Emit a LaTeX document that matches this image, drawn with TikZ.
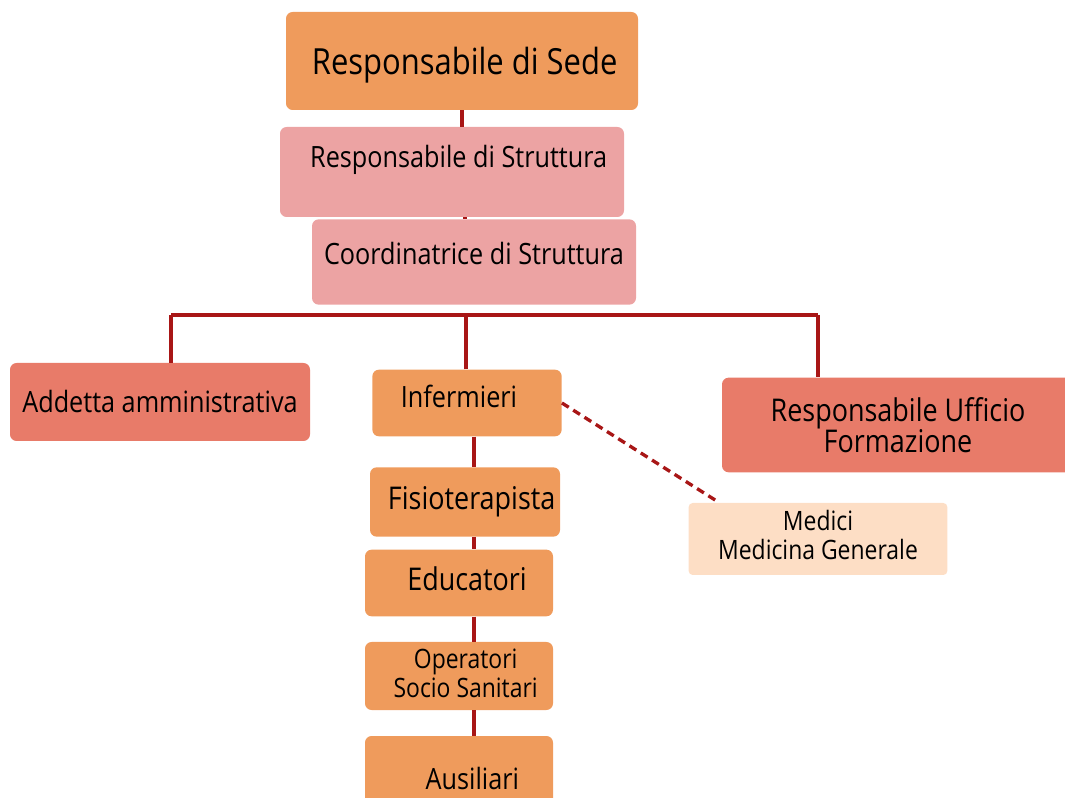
\documentclass[tikz,border=0pt]{standalone}
\usepackage{fontspec}
\setmainfont{Open Sans}[FakeStretch=0.86]
\usepackage{tikz}
\usetikzlibrary{calc}

\definecolor{arancio}{HTML}{EF9B5C}
\definecolor{rosa}{HTML}{ECA3A3}
\definecolor{salmone}{HTML}{E87B69}
\definecolor{pesca}{HTML}{FDDEC5}
\definecolor{linea}{HTML}{A81616}

\begin{document}
\begin{tikzpicture}[x=0.75pt,y=-0.75pt,
                    link/.style={draw=linea,line width=2.5pt},
                    main node/.style={rectangle,rounded corners=5pt,inner sep=0pt,align=center,
                      font=\fontsize{22}{24}\selectfont},
                    big node/.style={main node,font=\fontsize{27}{30}\selectfont},
                    small node/.style={main node,font=\fontsize{20}{22}\selectfont}]

  \useasboundingbox (0,0) rectangle (1065,798);

  \node[big node,fill=arancio,minimum width=264pt,minimum height=73.5pt,text height=27pt] (sede) at (462,61) {\hspace*{4pt}Responsabile di Sede};
  \node[main node,fill=rosa,minimum width=258pt,minimum height=67.5pt,text depth=24pt] (strutt) at (452,172) {\hspace*{10pt}Responsabile di Struttura};
  \node[main node,fill=rosa,minimum width=243pt,minimum height=64pt,text depth=13pt] (coord) at (474,262) {Coordinatrice di Struttura};
  \node[main node,fill=salmone,minimum width=225pt,minimum height=58.5pt] (addetta) at (160,402) {Addetta amministrativa};
  \node[main node,fill=arancio,minimum width=142pt,minimum height=50pt,text depth=10pt] (infer) at (467,403) {\hspace*{-12pt}Infermieri};
  \node[big node,fill=salmone,minimum width=264pt,minimum height=71pt,
        font=\fontsize{23.5}{23}\selectfont] (ufficio) at (898,425) {Responsabile Ufficio\\Formazione};
  \node[small node,fill=pesca,rounded corners=3pt,minimum width=194pt,minimum height=54pt,
        text depth=6pt] (medici) at (818,539) {Medici\\Medicina Generale};
  \node[main node,fill=arancio,minimum width=142.5pt,minimum height=52pt,
        font=\fontsize{23.5}{26}\selectfont] (fisio) at (465,502) {\hspace*{10pt}Fisioterapista};
  \node[main node,fill=arancio,minimum width=141pt,minimum height=50pt,text depth=6pt,
        font=\fontsize{23.5}{26}\selectfont] (educ) at (459,583) {\hspace*{12pt}Educatori};
  \node[small node,fill=arancio,minimum width=141pt,minimum height=51pt,text depth=4pt] (oper) at (459,676) {\hspace*{10pt}Operatori\\\hspace*{10pt}Socio Sanitari};
  \node[main node,fill=arancio,minimum width=141pt,minimum height=63pt] (ausil) at (459,778) {\hspace*{20pt}Ausiliari};

  \coordinate (barL) at (171,315);
  \coordinate (barR) at (818,315);
  \coordinate (spine) at (474,0);

  \path[link]
    (sede.south -| sede.center) edge (strutt.north -| sede.center)
    (strutt.south -| 465,0) edge (coord.north -| 465,0)
    (infer.north -| 466,0) edge (barL -| 466,0)
    (addetta.north -| barL) edge (barL)
    (barL) edge (barR)
    (barR) edge (ufficio.north -| barR);
  \foreach \a/\b in {infer/fisio,fisio/educ,educ/oper,oper/ausil}
    \draw[link] (\a.south -| spine) -- (\b.north -| spine);
  \draw[link,dashed,dash pattern=on 6pt off 4pt] (infer.east) -- ($(medici.north west)+(31,0)$);
\end{tikzpicture}
\end{document}
